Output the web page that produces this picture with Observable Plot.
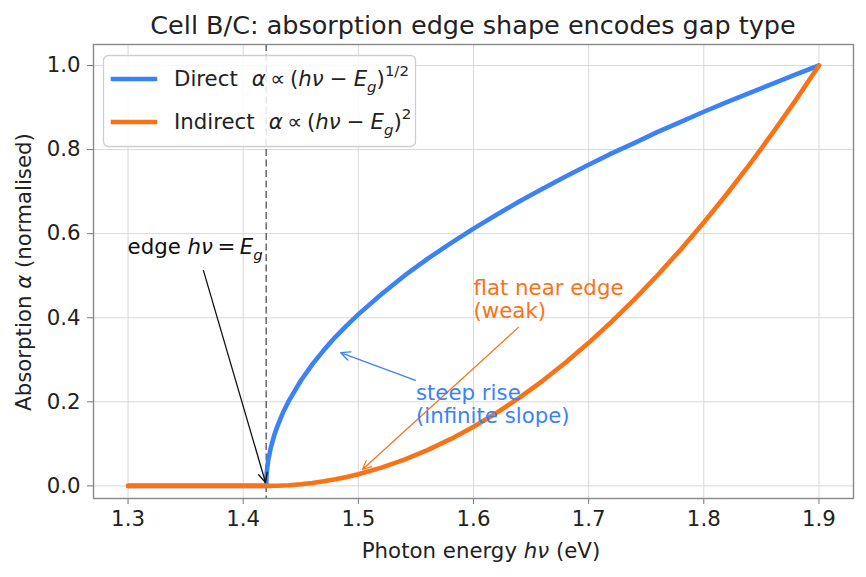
<!DOCTYPE html>
<html>
<head>
<meta charset="utf-8">
<script src="https://cdn.jsdelivr.net/npm/d3@7"></script>
<script src="https://cdn.jsdelivr.net/npm/@observablehq/plot@0.6"></script>
<style>
  html, body { margin: 0; padding: 0; background: #fff; }
  svg { display: block; }
</style>
</head>
<body>
<div id="chart"></div>
<script>
// Photon energy grid (eV), dense just above the gap so the square-root rise is resolved
const energy = [1.30, 1.42, 1.4202, 1.4205, 1.421, 1.422, 1.424, 1.427,
  1.43, 1.435, 1.44, 1.45, 1.46, 1.47, 1.48, 1.49, 1.50,
  1.52, 1.54, 1.56, 1.58, 1.60, 1.62, 1.64, 1.66, 1.68, 1.70,
  1.72, 1.74, 1.76, 1.78, 1.80, 1.82, 1.84, 1.86, 1.88, 1.90];

// Normalised absorption, direct gap (square-root edge)
const directAlpha = [0, 0, 0.020, 0.032, 0.046, 0.065, 0.091, 0.121,
  0.144, 0.177, 0.204, 0.250, 0.289, 0.323, 0.354, 0.382, 0.408,
  0.456, 0.500, 0.540, 0.577, 0.612, 0.645, 0.677, 0.707, 0.736, 0.764,
  0.791, 0.816, 0.842, 0.866, 0.890, 0.913, 0.935, 0.957, 0.979, 1.000];

// Normalised absorption, indirect gap (quadratic edge)
const indirectAlpha = [0, 0, 0, 0, 0, 0, 0.0001, 0.0002,
  0.0004, 0.0010, 0.0017, 0.0039, 0.0069, 0.0109, 0.0156, 0.0213, 0.0278,
  0.0434, 0.0625, 0.0851, 0.1111, 0.1406, 0.1736, 0.2101, 0.2500, 0.2934, 0.3403,
  0.3906, 0.4444, 0.5017, 0.5625, 0.6267, 0.6944, 0.7656, 0.8403, 0.9184, 1.0000];

const gapEnergy = [1.42];
const xTicks = [1.3, 1.4, 1.5, 1.6, 1.7, 1.8, 1.9];
const yTicks = [0, 0.2, 0.4, 0.6, 0.8, 1.0];

// Annotation text anchors and arrows (data units)
const steepNote = [{x: 1.55, y: 0.15, text: "steep rise\n(infinite slope)"}];
const flatNote = [{x: 1.60, y: 0.40, text: "flat near edge\n(weak)"}];
const edgeNote = {x: 1.30, y: 0.55};
const edgeArrow = [{x1: 1.3655, y1: 0.512, x2: 1.4194, y2: 0.008}];
const steepArrow = [{x1: 1.5496, y1: 0.251, x2: 1.4845, y2: 0.317}];
const flatArrow = [{x1: 1.639, y1: 0.377, x2: 1.5036, y2: 0.039}];

const BLUE = "#3b82f6";
const ORANGE = "#f97316";
const INK = "#222222";
const FONT = "DejaVu Sans";
const FS = 21.3;

const direct = energy.map((e, i) => ({e, a: directAlpha[i]}));
const indirect = energy.map((e, i) => ({e, a: indirectAlpha[i]}));

const chart = Plot.plot({
  width: 866,
  height: 577,
  marginLeft: 93,
  marginRight: 13,
  marginTop: 44,
  marginBottom: 79,
  style: {fontFamily: FONT, fontSize: FS + "px", color: INK, background: "#fff"},
  x: {domain: [1.27, 1.93], label: null},
  y: {domain: [-0.03, 1.05], label: null},
  marks: [
    Plot.gridX(xTicks, {stroke: "#d8d8d8", strokeOpacity: 1, strokeWidth: 1}),
    Plot.gridY(yTicks, {stroke: "#d8d8d8", strokeOpacity: 1, strokeWidth: 1}),
    Plot.axisX(xTicks, {tickSize: 6, tickPadding: 6, tickFormat: d3.format(".1f"),
      fontSize: FS, stroke: "#777", fill: INK, label: null}),
    Plot.axisY(yTicks, {tickSize: 6, tickPadding: 7, tickFormat: d3.format(".1f"),
      fontSize: FS, stroke: "#777", fill: INK, label: null}),
    Plot.ruleX(gapEnergy, {stroke: "#555", strokeOpacity: 0.85, strokeWidth: 1.6, strokeDasharray: "7,3.5"}),
    Plot.line(direct, {x: "e", y: "a", stroke: BLUE, strokeWidth: 4.6}),
    Plot.line(indirect, {x: "e", y: "a", stroke: ORANGE, strokeWidth: 4.6}),
    Plot.arrow(edgeArrow, {x1: "x1", y1: "y1", x2: "x2", y2: "y2", stroke: "#111",
      strokeWidth: 1.3, headLength: 12, headAngle: 50}),
    Plot.arrow(steepArrow, {x1: "x1", y1: "y1", x2: "x2", y2: "y2", stroke: BLUE,
      strokeWidth: 1.3, headLength: 12, headAngle: 50}),
    Plot.arrow(flatArrow, {x1: "x1", y1: "y1", x2: "x2", y2: "y2", stroke: ORANGE,
      strokeWidth: 1.2, headLength: 12, headAngle: 50}),
    Plot.text(steepNote, {x: "x", y: "y", text: "text", fill: BLUE, fontSize: FS,
      textAnchor: "start", lineAnchor: "bottom", lineHeight: 1.08}),
    Plot.text(flatNote, {x: "x", y: "y", text: "text", fill: ORANGE, fontSize: FS,
      textAnchor: "start", lineAnchor: "bottom", lineHeight: 1.08}),
    Plot.frame({stroke: "#888", strokeWidth: 1.4})
  ]
});

document.getElementById("chart").appendChild(chart);

const svg = d3.select(chart);
const sx = chart.scale("x");
const sy = chart.scale("y");

// Writes a run of plain / italic / subscript / superscript pieces into a text node
function mathText(sel, parts, size) {
  let shift = 0;
  parts.forEach(p => {
    const ts = sel.append("tspan").text(p.t);
    let target = 0;
    if (p.sub) target = size * 0.28;
    if (p.sup) target = -size * 0.45;
    if (target !== shift) { ts.attr("dy", target - shift); shift = target; }
    if (p.dx) ts.attr("dx", p.dx);
    if (p.i) ts.attr("font-style", "italic");
    if (p.sub || p.sup) ts.attr("font-size", size * 0.7);
  });
  return sel;
}

const overlay = svg.append("g")
  .attr("font-family", FONT)
  .attr("text-anchor", "start")
  .attr("fill", INK);

// Title
overlay.append("text")
  .attr("x", 473).attr("y", 34)
  .attr("text-anchor", "middle")
  .attr("font-size", 25.5)
  .text("Cell B/C: absorption edge shape encodes gap type");

// Axis labels
mathText(overlay.append("text")
  .attr("x", 481).attr("y", 558)
  .attr("text-anchor", "middle")
  .attr("font-size", FS),
  [{t: "Photon energy "}, {t: "hν", i: true}, {t: " (eV)"}], FS);

mathText(overlay.append("text")
  .attr("transform", "translate(31,272) rotate(-90)")
  .attr("text-anchor", "middle")
  .attr("font-size", FS),
  [{t: "Absorption "}, {t: "α", i: true}, {t: " (normalised)"}], FS);

// Edge label
mathText(overlay.append("text")
  .attr("x", sx.apply(edgeNote.x)).attr("y", sy.apply(edgeNote.y))
  .attr("font-size", FS).attr("fill", "#111"),
  [{t: "edge "}, {t: "hν", i: true}, {t: "=", dx: 4.5}, {t: "E", i: true, dx: 4.5}, {t: "g", i: true, sub: true}], FS);

// Legend
const legend = overlay.append("g");
legend.append("rect")
  .attr("x", 103.5).attr("y", 55.5)
  .attr("width", 312).attr("height", 91)
  .attr("rx", 5)
  .attr("fill", "#fff").attr("fill-opacity", 0.85)
  .attr("stroke", "#cfcfcf").attr("stroke-width", 1.3);

const entries = [
  {color: BLUE, y: 79, parts: [{t: "Direct"}, {t: "α", i: true, dx: 14}, {t: "∝", dx: 4.5}, {t: "(", dx: 4.5}, {t: "hν", i: true},
    {t: "−", dx: 6}, {t: "E", i: true, dx: 6}, {t: "g", i: true, sub: true}, {t: ")"}, {t: "1/2", sup: true}]},
  {color: ORANGE, y: 122, parts: [{t: "Indirect"}, {t: "α", i: true, dx: 14}, {t: "∝", dx: 4.5}, {t: "(", dx: 4.5}, {t: "hν", i: true},
    {t: "−", dx: 6}, {t: "E", i: true, dx: 6}, {t: "g", i: true, sub: true}, {t: ")"}, {t: "2", sup: true}]}
];
entries.forEach(en => {
  legend.append("line")
    .attr("x1", 113).attr("x2", 155)
    .attr("y1", en.y).attr("y2", en.y)
    .attr("stroke", en.color).attr("stroke-width", 4.6)
    .attr("stroke-linecap", "square");
  mathText(legend.append("text")
    .attr("x", 174).attr("y", en.y + 7)
    .attr("font-size", FS), en.parts, FS);
});
</script>
</body>
</html>
